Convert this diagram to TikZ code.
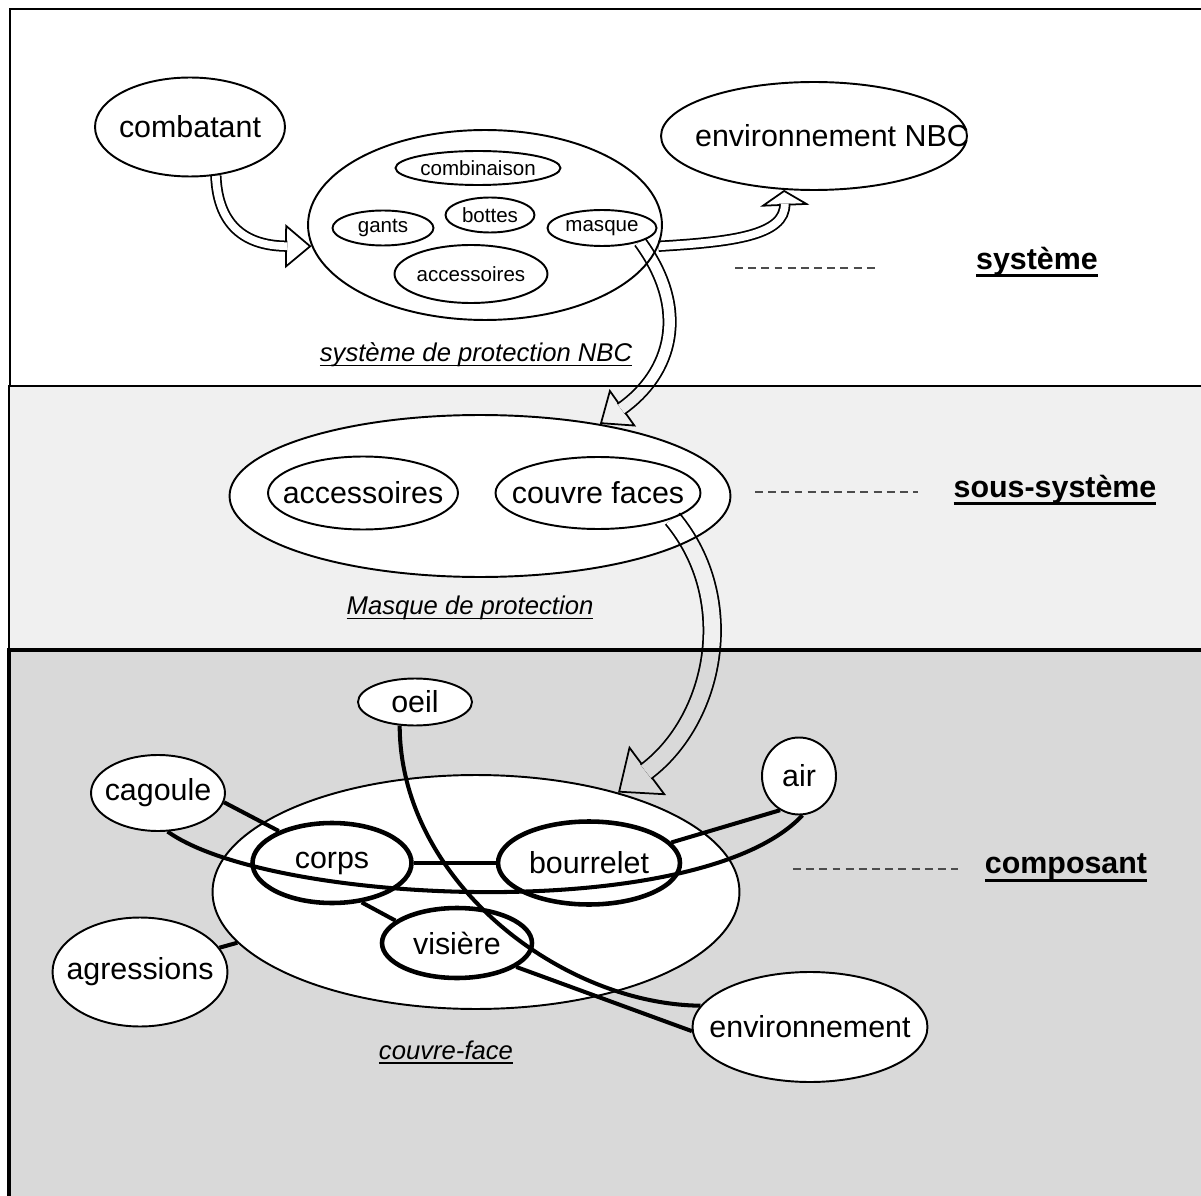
\documentclass[tikz,border=0pt]{standalone}
\usepackage{fontspec}
\setmainfont{Liberation Sans}
\usetikzlibrary{arrows.meta, shapes.geometric}
\definecolor{bandmid}{HTML}{F0F0F0}
\definecolor{bandlow}{HTML}{D9D9D9}
\newcommand{\fsbig}{\fontsize{17.3}{20}\selectfont}
\newcommand{\fssmall}{\fontsize{11.7}{14}\selectfont}
\newcommand{\fscap}{\fontsize{14.6}{17}\selectfont}
\newcommand{\nb}[1]{\makebox[0pt]{#1}}
\newsavebox{\ulsave}
\newcommand{\ulined}[3]{\sbox{\ulsave}{#3}\rlap{\rule[#2]{\wd\ulsave}{#1}}\usebox{\ulsave}}
\newcommand{\lvl}[1]{\ulined{1.9pt}{-4.6pt}{\bfseries #1}}
\newcommand{\capt}[1]{\ulined{0.7pt}{-2.6pt}{\itshape #1}}
\newcommand{\hollowarrow}[4]{%
  \begin{scope}[blend mode=multiply]
  \begin{scope}[transparency group]
    \draw[blockarr, -{Triangle[length=#1, width=#2, fill=white]}] #4;
    \draw[blockarr, double=white, double distance=#3, shorten >=#1-1.2pt] #4;
  \end{scope}
  \end{scope}}

\begin{document}
\begin{tikzpicture}[x=0.02cm, y=-0.02cm,
    ell/.style={ellipse, draw, line width=1.1pt, fill=white, inner sep=0pt, font=\fsbig},
    sml/.style={ell, font=\fssmall},
    part/.style={ell, line width=2.6pt},
    legend/.style={font=\fscap, inner sep=1pt},
    tier/.style={font=\fsbig, inner sep=1pt},
    lead/.style={dash pattern=on 4.5pt off 3pt, line width=0.6pt, black!70},
    link/.style={line width=2.3pt},
    blockarr/.style={line width=1pt}]
  \useasboundingbox (0,0) rectangle (1201,1196);
  \filldraw[fill=white, line width=1pt] (10,9) rectangle (1230,386);
  \filldraw[fill=bandmid, line width=1.6pt] (9,386) rectangle (1230,650);
  \filldraw[fill=bandlow, line width=2pt] (9,650) rectangle (1230,1230);

  \node[ell, minimum width=3.8cm, minimum height=1.98cm] (cmb) at (190,127) {\nb{combatant}};
  \node[ell, minimum width=7.08cm, minimum height=3.8cm] (spn) at (485,225) {};
  \node[sml, minimum width=3.3cm, minimum height=0.68cm] (cbn) at (478,168) {\nb{combinaison}};
  \node[sml, minimum width=1.78cm, minimum height=0.7cm] (btt) at (490,215) {\nb{bottes}};
  \node[sml, minimum width=2.02cm, minimum height=0.7cm] (gts) at (383,228) {\nb{gants}};
  \node[sml, minimum width=2.18cm, minimum height=0.72cm] (msq) at (602,228) {\nb{masque}};
  \node[sml, minimum width=3.06cm, minimum height=1.16cm] (acc1) at (471,274) {\nb{accessoires}};
  \node[ell, minimum width=6.12cm, minimum height=2.16cm] (envnbc) at (814,136) {\nb{\hspace*{0.72cm}environnement NBC}};
  \node[legend] (spncap) at (476,355) {\capt{système de protection NBC}};
  \coordinate (ld1a) at (735,268);
  \coordinate (ld1b) at (876,268);
  \node[tier] (tsys) at (1037,262) {\lvl{système}};

  \node[ell, minimum width=10.02cm, minimum height=3.24cm] (mdp) at (480,496) {};
  \node[ell, minimum width=3.8cm, minimum height=1.46cm] (acc2) at (363,493) {\nb{accessoires}};
  \node[ell, minimum width=4.1cm, minimum height=1.44cm] (cvfs) at (598,493) {\nb{couvre faces}};
  \node[legend] (mdpcap) at (470,608) {\capt{Masque de protection}};
  \coordinate (ld2a) at (755,492);
  \coordinate (ld2b) at (918,492);
  \node[tier] (tsub) at (1055,490) {\lvl{sous-système}};

  \node[ell, minimum width=10.54cm, minimum height=4.68cm] (cvf) at (476,892) {};
  \node[part, minimum width=3.18cm, minimum height=1.6cm] (crp) at (332,863) {\nb{corps}};
  \node[part, minimum width=3.64cm, minimum height=1.66cm] (bour) at (589,863) {\nb{bourrelet}};
  \node[part, minimum width=3.0cm, minimum height=1.4cm] (vis) at (457,943) {\nb{visière}};
  \node[ell, minimum width=2.28cm, minimum height=0.94cm] (oel) at (415,702) {\nb{oeil}};
  \node[ell, minimum width=2.68cm, minimum height=1.52cm] (cag) at (158,793) {\nb{cagoule}};
  \node[ell, minimum width=3.5cm, minimum height=2.18cm] (agr) at (140,972) {\nb{agressions}};
  \node[ell, minimum width=1.48cm, minimum height=1.54cm] (air) at (799,776) {\nb{air}};
  \node[ell, minimum width=4.7cm, minimum height=2.2cm] (envr) at (810,1027) {\nb{environnement}};
  \node[legend] (cvfcap) at (446,1052) {\capt{couvre-face}};
  \coordinate (ld3a) at (793,869);
  \coordinate (ld3b) at (958,869);
  \node[tier] (tcmp) at (1066,868) {\lvl{composant}};

  \draw[lead] (ld1a) -- (ld1b);
  \draw[lead] (ld2a) -- (ld2b);
  \draw[lead] (ld3a) -- (ld3b);

  \hollowarrow{15pt}{25pt}{4.4pt}{(cmb.-62) .. controls (218,230) and (250,246) .. (spn.187)}
  \hollowarrow{9pt}{28pt}{4.4pt}{(spn.-7) .. controls (730,242) and (786,236) .. (envnbc.-119)}
  \hollowarrow{16pt}{26pt}{6pt}{(msq.-20) .. controls (690,310) and (672,373) .. (mdp.31)}
  \hollowarrow{21pt}{35pt}{9pt}{(cvfs.-19) .. controls (740,600) and (715,720) .. (cvf.35)}

  \draw[link] (cag.-8) -- (crp.149);
  \draw[link] (cag.-76) .. controls (270,905) and (700,925) .. (air.-85);
  \draw[link] (oel.-123) .. controls (400,880) and (560,1004) .. (envr.169);
  \draw[link] (crp) -- (bour);
  \draw[link] (bour.14) -- (air.-119);
  \draw[link] (crp.-53) -- (vis.160);
  \draw[link] (vis.-22) -- (envr.182);
  \draw[link] (agr.17) -- (cvf.192);
\end{tikzpicture}
\end{document}
